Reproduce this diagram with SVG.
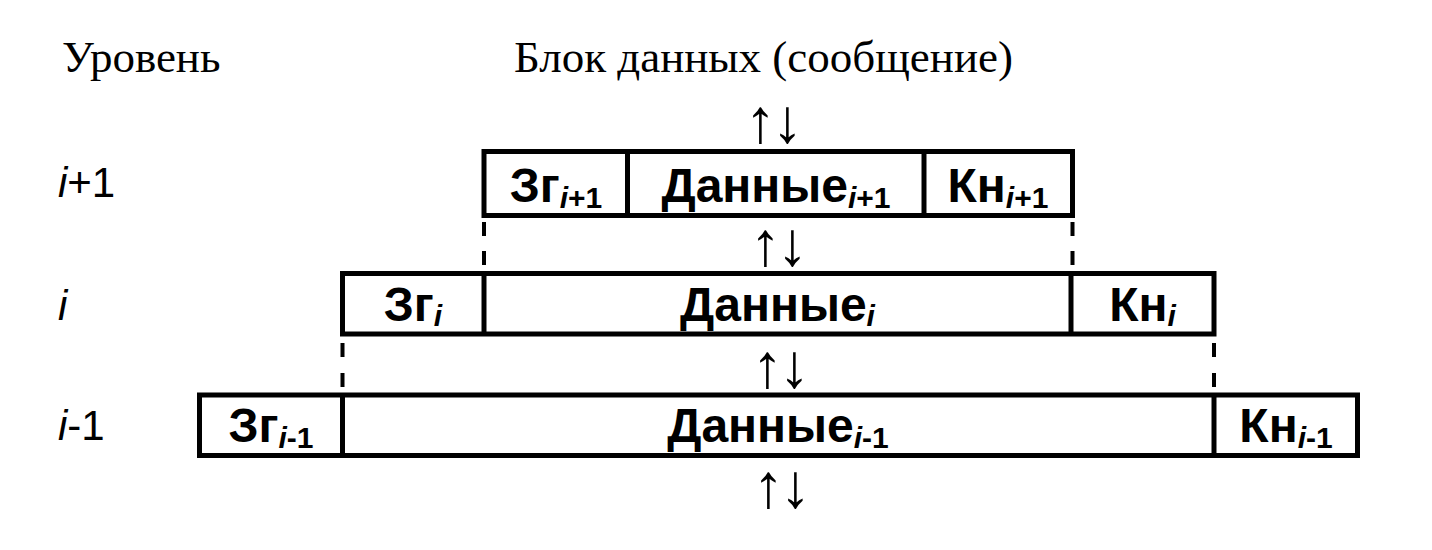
<svg xmlns="http://www.w3.org/2000/svg" width="1432" height="550" viewBox="0 0 1432 550">
<style>
.box{fill:#fff;stroke:#000;stroke-width:5}
.div{stroke:#000;stroke-width:5}
.dash{stroke:#000;stroke-width:4;fill:none}
.serif{font-family:"Liberation Serif","Times New Roman",serif;font-size:45px;fill:#000}
.lvl{font-family:"Liberation Sans",Arial,sans-serif;font-size:42px;fill:#000}
.cell{font-family:"Liberation Sans",Arial,sans-serif;font-weight:bold;font-size:48px;fill:#000;text-anchor:middle}
.sub{font-size:30px}
.arr{font-family:"Liberation Serif","DejaVu Serif",serif;font-size:62px;fill:#000;text-anchor:middle;letter-spacing:-4px}
.it{font-style:italic}
</style>
<rect width="1432" height="550" fill="#fff"/>
<g id="titles">
<text class="serif" x="62" y="72">Уровень</text>
<text class="serif" x="514" y="72">Блок данных (сообщение)</text>
</g>
<g id="levels">
<text class="lvl" x="58" y="197"><tspan class="it">i</tspan>+1</text>
<text class="lvl" x="58" y="320"><tspan class="it">i</tspan></text>
<text class="lvl" x="58" y="440"><tspan class="it">i</tspan>-1</text>
</g>
<g id="connectors">
<line class="dash" x1="484" y1="222" x2="484" y2="266" stroke-dasharray="14 15"/>
<line class="dash" x1="1072.5" y1="222" x2="1072.5" y2="266" stroke-dasharray="14 15"/>
<line class="dash" x1="342.5" y1="343" x2="342.5" y2="387" stroke-dasharray="14 16"/>
<line class="dash" x1="1214" y1="343" x2="1214" y2="387" stroke-dasharray="14 16"/>
<text class="arr" x="772" y="142">↑↓</text>
<text class="arr" x="777" y="265">↑↓</text>
<text class="arr" x="779" y="387">↑↓</text>
<text class="arr" x="780" y="507">↑↓</text>
</g>
<g id="row-i-plus-1">
<rect class="box" x="484" y="151.5" width="588.5" height="64"/>
<line class="div" x1="627.5" y1="151.5" x2="627.5" y2="215.5"/>
<line class="div" x1="924" y1="151.5" x2="924" y2="215.5"/>
<text class="cell" x="556" y="202">Зг<tspan class="sub" dy="6"><tspan class="it">i</tspan>+1</tspan></text>
<text class="cell" x="776" y="202">Данные<tspan class="sub" dy="6"><tspan class="it">i</tspan>+1</tspan></text>
<text class="cell" x="998" y="202">Кн<tspan class="sub" dy="6"><tspan class="it">i</tspan>+1</tspan></text>
</g>
<g id="row-i">
<rect class="box" x="342.5" y="273.5" width="871.5" height="60.5"/>
<line class="div" x1="484" y1="273.5" x2="484" y2="334"/>
<line class="div" x1="1071" y1="273.5" x2="1071" y2="334"/>
<text class="cell" x="413" y="321">Зг<tspan class="it sub" dy="5">i</tspan></text>
<text class="cell" x="777.5" y="321">Данные<tspan class="it sub" dy="5">i</tspan></text>
<text class="cell" x="1142.5" y="321">Кн<tspan class="it sub" dy="5">i</tspan></text>
</g>
<g id="row-i-minus-1">
<rect class="box" x="199.5" y="395" width="1158" height="60.5"/>
<line class="div" x1="342.5" y1="395" x2="342.5" y2="455.5"/>
<line class="div" x1="1214" y1="395" x2="1214" y2="455.5"/>
<text class="cell" x="271" y="442">Зг<tspan class="sub" dy="6"><tspan class="it">i</tspan>-1</tspan></text>
<text class="cell" x="778" y="442">Данные<tspan class="sub" dy="6"><tspan class="it">i</tspan>-1</tspan></text>
<text class="cell" x="1286" y="442">Кн<tspan class="sub" dy="6"><tspan class="it">i</tspan>-1</tspan></text>
</g>
</svg>
